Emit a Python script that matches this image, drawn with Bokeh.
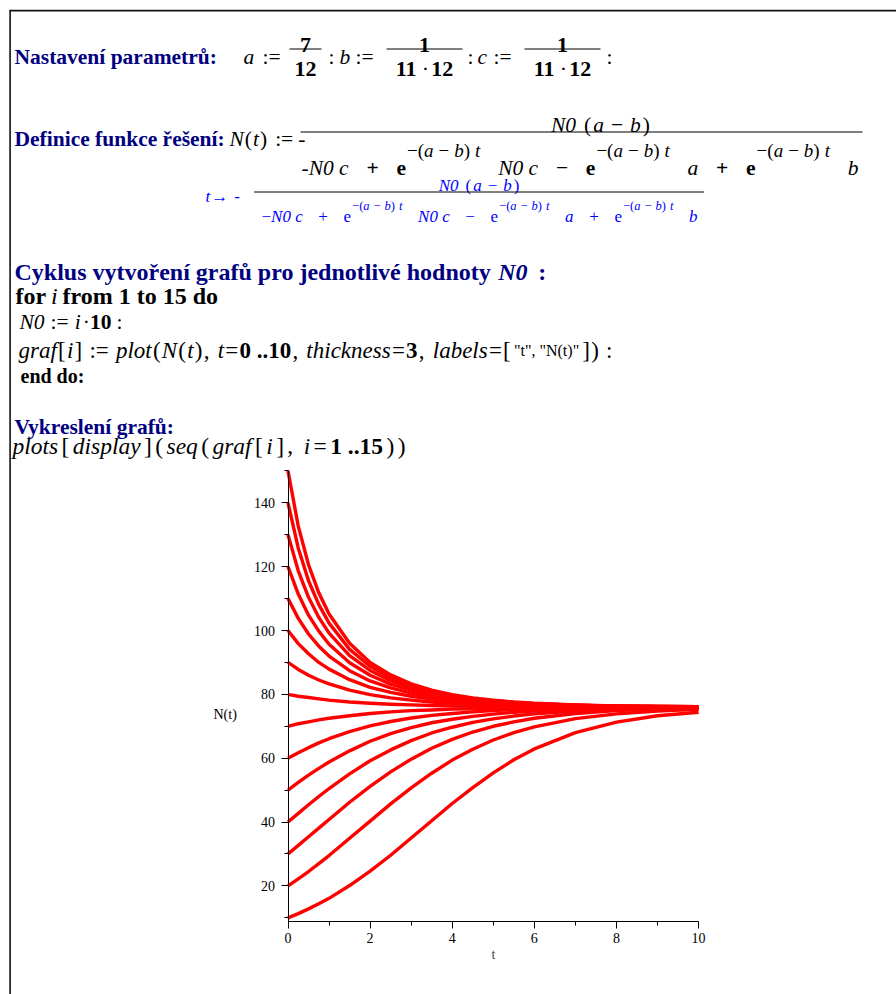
from bokeh.plotting import figure
from bokeh.models import ColumnDataSource, Range1d, FixedTicker, LinearAxis
from bokeh.core.properties import value, field
from bokeh.embed import file_html
from bokeh.resources import INLINE

# ---------------------------------------------------------------- data
t_values = [0, 0.25, 0.5, 0.75, 1, 1.5, 2, 2.5, 3, 3.5, 4, 4.5, 5, 5.5, 6, 7, 8, 9, 10]
n0_values = [10, 20, 30, 40, 50, 60, 70, 80, 90, 100, 110, 120, 130, 140, 150]

n_010 = [10, 11.3, 12.8, 14.4, 16.1, 20.1, 24.6, 29.6, 35.0, 40.4, 45.8, 50.8, 55.4, 59.5, 62.9, 68.0, 71.3, 73.3, 74.4]
n_020 = [20, 22.2, 24.5, 27.0, 29.5, 34.9, 40.3, 45.7, 50.7, 55.3, 59.4, 62.8, 65.7, 68.0, 69.8, 72.4, 73.9, 74.8, 75.3]
n_030 = [30, 32.7, 35.4, 38.1, 40.8, 46.2, 51.2, 55.7, 59.7, 63.1, 65.9, 68.2, 70.0, 71.4, 72.5, 74.0, 74.9, 75.4, 75.6]
n_040 = [40, 42.7, 45.4, 48.0, 50.5, 55.1, 59.2, 62.6, 65.5, 67.9, 69.7, 71.2, 72.3, 73.2, 73.9, 74.8, 75.3, 75.6, 75.8]
n_050 = [50, 52.4, 54.7, 56.8, 58.8, 62.3, 65.3, 67.7, 69.6, 71.1, 72.2, 73.1, 73.8, 74.4, 74.8, 75.3, 75.6, 75.8, 75.9]
n_060 = [60, 61.7, 63.3, 64.8, 66.1, 68.3, 70.1, 71.5, 72.6, 73.4, 74.0, 74.5, 74.9, 75.2, 75.4, 75.6, 75.8, 75.9, 75.9]
n_070 = [70, 70.8, 71.4, 72.0, 72.5, 73.3, 74.0, 74.5, 74.9, 75.1, 75.4, 75.5, 75.6, 75.7, 75.8, 75.9, 75.9, 76.0, 76.0]
n_080 = [80, 79.4, 79.0, 78.6, 78.2, 77.6, 77.2, 76.9, 76.7, 76.5, 76.4, 76.3, 76.2, 76.2, 76.1, 76.1, 76.0, 76.0, 76.0]
n_090 = [90, 87.8, 86.0, 84.5, 83.3, 81.3, 79.9, 78.9, 78.2, 77.6, 77.2, 76.9, 76.7, 76.5, 76.4, 76.2, 76.1, 76.1, 76.0]
n_100 = [100, 95.9, 92.7, 90.0, 87.9, 84.6, 82.2, 80.6, 79.4, 78.5, 77.9, 77.4, 77.0, 76.8, 76.6, 76.3, 76.2, 76.1, 76.1]
n_110 = [110, 103.8, 98.9, 95.1, 92.0, 87.4, 84.2, 82.0, 80.4, 79.3, 78.4, 77.8, 77.3, 77.0, 76.7, 76.4, 76.2, 76.1, 76.1]
n_120 = [120, 111.4, 104.8, 99.8, 95.7, 89.9, 86.0, 83.2, 81.3, 79.9, 78.9, 78.1, 77.6, 77.2, 76.9, 76.5, 76.3, 76.2, 76.1]
n_130 = [130, 118.7, 110.4, 104.1, 99.2, 92.1, 87.5, 84.3, 82.1, 80.5, 79.3, 78.4, 77.8, 77.4, 77.0, 76.6, 76.3, 76.2, 76.1]
n_140 = [140, 125.8, 115.6, 108.1, 102.3, 94.1, 88.8, 85.2, 82.7, 80.9, 79.6, 78.7, 78.0, 77.5, 77.1, 76.6, 76.3, 76.2, 76.1]
n_150 = [150, 132.7, 120.6, 111.8, 105.2, 96.0, 90.0, 86.1, 83.3, 81.3, 79.9, 78.9, 78.2, 77.6, 77.2, 76.7, 76.4, 76.2, 76.1]
curves = [n_010, n_020, n_030, n_040, n_050, n_060, n_070, n_080,
          n_090, n_100, n_110, n_120, n_130, n_140, n_150]

x_ticks = [0, 2, 4, 6, 8, 10]
x_minor = [1, 3, 5, 7, 9]
y_ticks = [20, 40, 60, 80, 100, 120, 140]
y_minor = [10, 30, 50, 70, 90, 110, 130, 150]

# ---------------------------------------------------------------- page geometry
W, H_PAGE = 896, 994
PLOT_L, PLOT_R, PLOT_T, PLOT_B = 287.5, 698.1, 470.4, 920.5   # plot box on the page
T_LO, T_HI, N_LO, N_HI = 0.0, 10.0, 9.0, 150.0

# ---------------------------------------------------------------- text engine
SERIF = "Liberation Serif"
NAVY, BLACK, BLUE = "#000080", "#000000", "#0000ff"
H, SUP = 21.5, 19          # worksheet input sizes
BS, BSUP = 17, 12.5        # output line sizes


def _table(groups):
    out = {}
    for chars, w in groups:
        for ch in chars:
            out[ch] = w
    return out


ADV = {
    "R": _table([("abdghknopquvxy0123456789", 500), ("cez", 444), ("ijlt", 278),
                 ("fr()[]-", 333), ("s", 389), ("m", 778), ("wN", 722), (" ,.·", 250),
                 (":", 278), ("+=−", 564), ('"', 408), ("→", 1000)]),
    "I": _table([("abdghnopqu0123456789", 500), ("ceikvxy", 444), ("rsz[]", 389),
                 ("fijlt", 278), ("m", 722), ("wN", 667), ("()-:", 333), (" ,.·", 250),
                 ("+=−", 675)]),
    "B": _table([("agovyá0123456789", 500), ("bdhknpuů", 556), ("cerzéěř", 444),
                 ("ilí", 278), ("jft:", 333), ("sš", 389), ("m", 833), ("CDNVw", 722),
                 (" .·", 250), ("+−=", 570)]),
    "BI": _table([("N", 667), ("0", 500), (" ", 250), (":", 333)]),
}
STYLE = {"R": "normal", "I": "italic", "B": "bold", "BI": "bold italic"}

TXT = dict(x=[], y=[], text=[], fstyle=[], fsize=[], tcolor=[])
BARS = dict(x0=[], x1=[], y=[])


def text_width(s, st, size):
    tab = ADV[st]
    return sum(tab.get(ch, 500) for ch in s) * size / 1000.0


def put(s, x, y, st="R", size=H, color=BLACK):
    TXT["x"].append(x)
    TXT["y"].append(y)
    TXT["text"].append(s)
    TXT["fstyle"].append(STYLE[st])
    TXT["fsize"].append(f"{size}px")
    TXT["tcolor"].append(color)
    return x + text_width(s, st, size)


def r(s, st="R", gap=0, size=H, dy=0):
    return (s, st, gap, size, dy)


def runs_width(runs):
    return sum(g + text_width(s, st, sz) for s, st, g, sz, dy in runs)


def put_runs(runs, x, y, color=BLACK):
    for s, st, g, sz, dy in runs:
        x = put(s, x + g, y + dy, st, sz, color)
    return x


def fit_runs(runs, x0, x1, y, color=BLACK):
    # stretch the gaps evenly so the line runs from x0 to x1
    extra = (x1 - x0 - runs_width(runs)) / (len(runs) - 1)
    out = [runs[0]] + [(s, st, g + extra, sz, dy) for s, st, g, sz, dy in runs[1:]]
    put_runs(out, x0, y, color)


def centered(runs, xc, y, color=BLACK):
    put_runs(runs, xc - runs_width(runs) / 2, y, color)


def spread(groups, x0, x1, y, color=BLACK):
    widths = [runs_width(g) for g in groups]
    gap = (x1 - x0 - sum(widths)) / (len(groups) - 1)
    x = x0
    for g, w in zip(groups, widths):
        put_runs(g, x, y, color)
        x += w + gap


def bar(x0, x1, y):
    BARS["x0"].append(x0)
    BARS["x1"].append(x1)
    BARS["y"].append(y)


def exp_group(e_style, size, sup, dy, sp):
    return [r("e", e_style, 0, size), r("−(", "R", 1, sup, dy), r("a", "I", 0, sup, dy),
            r("−", "R", sp, sup, dy), r("b", "I", sp, sup, dy), r(")", "R", 0, sup, dy),
            r("t", "I", sp, sup, dy)]


# ---- parameter line
y = 56
put("Nastavení parametrů:", 14, y, "B", H, NAVY)
put("a", 243, y, "I")
put(":=", 262, y)
centered([r("7", "B", 0, 22)], 305, 44); centered([r("12", "B", 0, 22)], 305, 68)
bar(289, 321, 48.5)
put(":", 328, y)
put("b", 339, y, "I")
put(":=", 355, y)
centered([r("1", "B", 0, 22)], 424, 44)
centered([r("11", "B", 0, 22), r("·", "R", 4, 22), r("12", "B", 4, 22)], 424, 68)
bar(386, 462, 48.5)
put(":", 467, y)
put("c", 477, y, "I")
put(":=", 493, y)
centered([r("1", "B", 0, 22)], 562, 44)
centered([r("11", "B", 0, 22), r("·", "R", 4, 22), r("12", "B", 4, 22)], 562, 68)
bar(524, 600, 48.5)
put(":", 606, y)

# ---- solution definition (input)
y = 138
put("Definice funkce řešení:", 14, y, "B", H, NAVY)
put_runs([r("N", "I"), r("(", "R", 1), r("t", "I", 1), r(")", "R", 1),
          r(":=", "R", 8), r("-", "R", 5)], 229, y)
bar(300, 862, 131.5)
centered([r("N0", "I"), r("(", "R", 8), r("a", "I", 2), r("−", "R", 7), r("b", "I", 7),
          r(")", "R", 2)], 600, 124)
spread([[r("-", "R"), r("N0 c", "I")], [r("+", "B")], exp_group("B", H, SUP, -17, 5),
        [r("N0 c", "I")], [r("−", "R")], exp_group("B", H, SUP, -17, 5), [r("a", "I")],
        [r("+", "B")], exp_group("B", H, SUP, -17, 5), [r("b", "I")]], 301, 858, 167)

# ---- solution definition (output)
put_runs([r("t", "I", 0, BS), r("→", "R", 1, BS), r("-", "R", 6, BS)], 205, 196, BLUE)
bar(253.5, 703.5, 191.5)
centered([r("N0", "I", 0, BS), r("(", "R", 7, BS), r("a", "I", 2, BS), r("−", "R", 6, BS),
          r("b", "I", 6, BS), r(")", "R", 2, BS)], 478.5, 185, BLUE)
spread([[r("−", "R", 0, BS), r("N0 c", "I", 0, BS)], [r("+", "R", 0, BS)],
        exp_group("R", BS, BSUP, -11, 4), [r("N0 c", "I", 0, BS)], [r("−", "R", 0, BS)],
        exp_group("R", BS, BSUP, -11, 4), [r("a", "I", 0, BS)], [r("+", "R", 0, BS)],
        exp_group("R", BS, BSUP, -11, 4), [r("b", "I", 0, BS)]], 261, 697, 216, BLUE)

# ---- loop
put_runs([r("Cyklus vytvoření grafů pro jednotlivé hodnoty", "B", 0, 24),
          r("N0", "BI", 7, 24), r(":", "B", 12, 24)], 14, 271, NAVY)
fit_runs([r("for", "B", 0, 24), r("i", "I", 6, 24), r("from 1 to 15 do", "B", 6, 24)],
         15, 218, 295)
put_runs([r("N0", "I"), r(":=", "R", 6), r("i", "I", 6), r("·", "R", 2), r("10", "B", 2),
          r(":", "R", 5)], 19, 321)
fit_runs([r("graf", "I", 0, 23), r("[", "R", 0, 23), r("i", "I", 0, 23), r("]", "R", 0, 23),
          r(":=", "R", 6, 23), r("plot", "I", 6, 23), r("(", "R", 0, 23), r("N", "I", 0, 23),
          r("(", "R", 0, 23), r("t", "I", 0, 23), r(")", "R", 0, 23), r(",", "R", 0, 23),
          r("t", "I", 7, 23), r("=", "R", 0, 23), r("0 ..10", "B", 0, 23), r(",", "R", 0, 23),
          r("thickness", "I", 7, 23), r("=", "R", 0, 23), r("3", "B", 0, 23),
          r(",", "R", 0, 23), r("labels", "I", 7, 23), r("=", "R", 0, 23),
          r("[", "R", 0, 23), r('"t", "N(t)"', "R", 2, 16), r("]", "R", 2, 23),
          r(")", "R", 0, 23), r(":", "R", 6, 23)], 18, 612, 350)
put_runs([r("end do:", "B", 0, 20)], 20, 375)

# ---- display
put("Vykreslení grafů:", 14, 426, "B", H, NAVY)
fit_runs([r("plots", "I", 0, 23.5), r("[", "R", 0, 23.5), r("display", "I", 0, 23.5),
          r("]", "R", 0, 23.5), r("(", "R", 0, 23.5), r("seq", "I", 0, 23.5),
          r("(", "R", 0, 23.5), r("graf", "I", 0, 23.5), r("[", "R", 0, 23.5),
          r("i", "I", 0, 23.5), r("]", "R", 0, 23.5), r(",", "R", 0, 23.5),
          r("i", "I", 7, 23.5), r("=", "R", 0, 23.5), r("1 ..15", "B", 0, 23.5),
          r(")", "R", 0, 23.5), r(")", "R", 0, 23.5)], 12, 405, 445)

# ---------------------------------------------------------------- figure
page = figure(width=W, height=H_PAGE, x_range=Range1d(0, W), y_range=Range1d(H_PAGE, 0),
              x_axis_type=None, y_axis_type=None, output_backend="svg",
              toolbar_location=None, min_border=0)
page.outline_line_color = None
page.xgrid.visible = False
page.ygrid.visible = False

# data ranges of the plot, laid over the page so that the plot box sits where it belongs
sx = (PLOT_R - PLOT_L) / (T_HI - T_LO)
sy = (PLOT_B - PLOT_T) / (N_HI - N_LO)
page.extra_x_ranges = {"t": Range1d(T_LO - PLOT_L / sx, T_HI + (W - PLOT_R) / sx)}
page.extra_y_ranges = {"N": Range1d(N_LO - (H_PAGE - PLOT_B) / sy, N_HI + PLOT_T / sy)}

page.text(x="x", y="y", text="text", source=ColumnDataSource(TXT),
          text_font=value(SERIF), text_font_size=field("fsize"),
          text_font_style=field("fstyle"), text_color=field("tcolor"),
          text_baseline="alphabetic", text_align="left")
page.segment(x0="x0", y0="y", x1="x1", y1="y", source=ColumnDataSource(BARS),
             line_color=BLACK, line_width=1)

# worksheet frame
page.segment(x0=[9], y0=[10.2], x1=[W], y1=[10.2], line_color="#111111", line_width=1.7)
page.segment(x0=[9.6], y0=[10], x1=[9.6], y1=[H_PAGE], line_color="#111111", line_width=1.6)

# solution curves N(t) for N0 = 10 ... 150
for vals in curves:
    page.line(t_values, vals, x_range_name="t", y_range_name="N",
              line_color="#ff0000", line_width=3.4, line_join="round")

xaxis = LinearAxis(x_range_name="t", y_range_name="N", fixed_location=N_LO,
                   bounds=(T_LO, T_HI), ticker=FixedTicker(ticks=x_ticks, minor_ticks=x_minor))
yaxis = LinearAxis(x_range_name="t", y_range_name="N", fixed_location=T_LO,
                   bounds=(N_LO, N_HI), ticker=FixedTicker(ticks=y_ticks, minor_ticks=y_minor))
for ax in (xaxis, yaxis):
    ax.axis_line_color = BLACK
    ax.axis_line_width = 1
    ax.major_tick_line_color = BLACK
    ax.minor_tick_line_color = BLACK
    ax.major_tick_in = 0
    ax.major_tick_out = 7
    ax.minor_tick_in = 0
    ax.minor_tick_out = 4
    ax.major_label_text_font = SERIF
    ax.major_label_text_font_size = "14px"
    ax.major_label_text_color = BLACK
yaxis.major_label_standoff = 6
xaxis.major_label_standoff = 5
xaxis.axis_label = "t"
xaxis.axis_label_text_font = SERIF
xaxis.axis_label_text_font_size = "14px"
xaxis.axis_label_text_font_style = "normal"
xaxis.axis_label_standoff = 0
page.add_layout(xaxis, "below")
page.add_layout(yaxis, "left")

page.text(x=[213], y=[714], text=["N(t)"], text_font=value(SERIF), text_font_size="14px",
          text_color=BLACK, text_baseline="alphabetic", text_align="left")

open("out.html", "w").write(file_html(page, INLINE))
